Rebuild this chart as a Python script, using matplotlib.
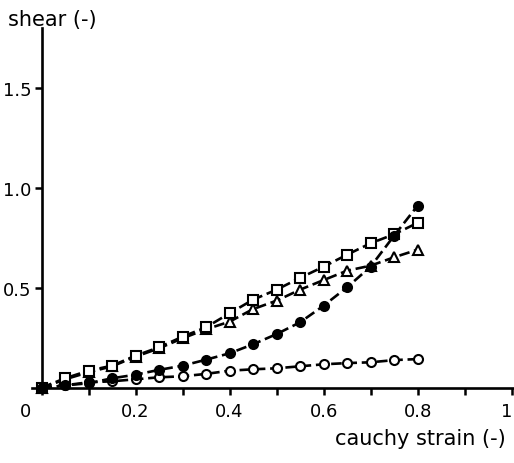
import matplotlib
matplotlib.use("Agg")
import matplotlib.pyplot as plt
import matplotlib.transforms as mtransforms

# --- data (strain steps of 0.05) ---
strain = [0.0, 0.05, 0.10, 0.15, 0.20, 0.25, 0.30, 0.35, 0.40,
          0.45, 0.50, 0.55, 0.60, 0.65, 0.70, 0.75, 0.80]
shear_filled = [0.0, 0.015, 0.025, 0.05, 0.068, 0.092, 0.113, 0.143, 0.175,
                0.22, 0.271, 0.33, 0.413, 0.505, 0.608, 0.763, 0.913]
shear_square = [0.003, 0.05, 0.088, 0.113, 0.163, 0.205, 0.258, 0.305, 0.375,
                0.443, 0.493, 0.552, 0.608, 0.668, 0.725, 0.77, 0.827]
shear_triangle = [0.0, 0.045, 0.08, 0.11, 0.158, 0.2, 0.25, 0.295, 0.333,
                  0.396, 0.438, 0.493, 0.541, 0.588, 0.613, 0.655, 0.693]
shear_open = [0.0, 0.015, 0.03, 0.035, 0.045, 0.055, 0.06, 0.072, 0.088,
              0.095, 0.10, 0.11, 0.12, 0.126, 0.13, 0.141, 0.146]

xticks = [0.0, 0.1, 0.2, 0.3, 0.4, 0.5, 0.6, 0.7, 0.8, 0.9, 1.0]
xticklabels = ["0", "", "0.2", "", "0.4", "", "0.6", "", "0.8", "", "1"]
yticks = [0.5, 1.0, 1.5]
yticklabels = ["0.5", "1.0", "1.5"]

plt.rcParams["font.family"] = ["DejaVu Sans"]

fig = plt.figure(figsize=(5.14, 4.64), dpi=100)
ax = fig.add_axes([0.0625, 0.161, 0.9375, 0.776])

dash = (0, (4, 1.8))
common = dict(color="black", lw=1.9, ls=dash, ms=6.5, mew=1.5, clip_on=False)
ax.plot(strain, shear_open, marker="o", mfc="white", mec="black", **common)
ax.plot(strain, shear_triangle, marker="^", mfc="white", mec="black", **common)
ax.plot(strain, shear_square, marker="s", mfc="white", mec="black", **common)
ax.plot(strain, shear_filled, marker="o", mfc="black", mec="black", **common)

ax.set_xlim(-0.02, 1.005)
ax.set_ylim(0, 1.8)

ax.spines["left"].set_position(("data", 0))
ax.spines["top"].set_visible(False)
ax.spines["right"].set_visible(False)
for s in ("left", "bottom"):
    ax.spines[s].set_linewidth(1.9)

ax.set_xticks(xticks)
ax.set_xticklabels(xticklabels)
ax.set_yticks(yticks)
ax.set_yticklabels(yticklabels)
ax.tick_params(direction="out", length=5, width=1.8, labelsize=13)
ax.tick_params(axis="y", pad=2)
ax.tick_params(axis="x", pad=5)

# the "0" label sits left of the origin in the original; nudge "1" inside the edge
labs = ax.get_xticklabels()
for lab, dx in ((labs[0], -16), (labs[-1], -5)):
    lab.set_transform(lab.get_transform() +
                      mtransforms.ScaledTranslation(dx / 100, 0, fig.dpi_scale_trans))

fig.text(0.0156, 0.944, "shear (-)", fontsize=15, va="baseline", ha="left")
fig.text(0.652, 0.041, "cauchy strain (-)", fontsize=15, va="baseline", ha="left")

fig.savefig("out.png", dpi=100)
